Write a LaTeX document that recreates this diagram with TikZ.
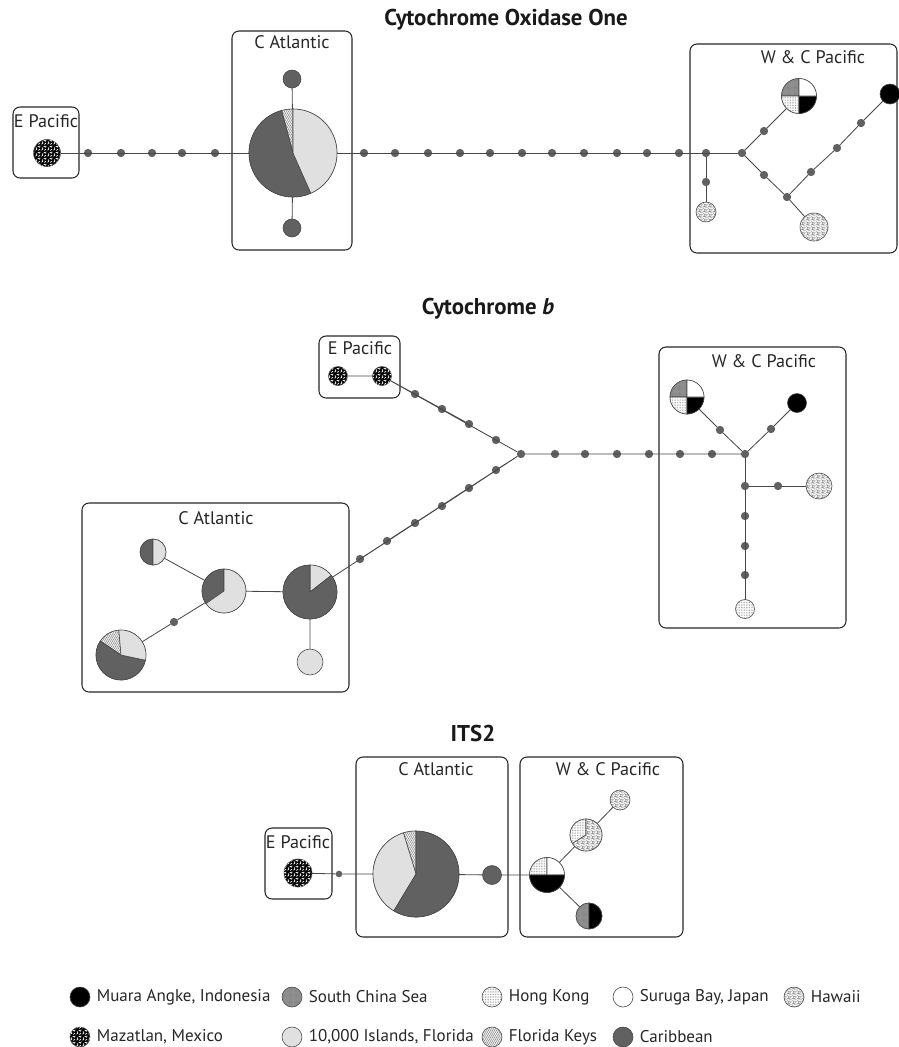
\documentclass[tikz,border=0pt]{standalone}
\usepackage{fontspec}
\setmainfont{PT Sans}
\usepackage{tikz}
\usetikzlibrary{calc,patterns,patterns.meta,positioning}
\definecolor{carib}{gray}{0.38}
\definecolor{isl}{gray}{0.88}
\definecolor{scsgray}{gray}{0.58}
\definecolor{hapline}{gray}{0.28}
% fine textures for the sampling sites
\tikzdeclarepattern{name=hawaiinet, type=uncolored,
	bounding box={(0,0) and (4pt,4pt)}, tile size={(4pt,4pt)},
	code={\draw[line width=.3pt] (0,.8pt) -- (1.2pt,1.6pt) -- (2.4pt,.6pt) -- (4pt,.8pt)
		(1.2pt,1.6pt) -- (1.4pt,3.2pt) -- (2.9pt,2.7pt) -- (2.4pt,.6pt)
		(1.4pt,3.2pt) -- (.2pt,4pt) (2.9pt,2.7pt) -- (4pt,3.3pt);}}
\tikzdeclarepattern{name=blobs, type=uncolored,
	bounding box={(0,0) and (5pt,5pt)}, tile size={(5pt,5pt)},
	code={\draw[line width=.6pt,line cap=round] (.6pt,.8pt) -- (1.6pt,1.8pt) -- (1pt,2.9pt)
		(2.9pt,.6pt) -- (4.2pt,1.4pt) (2.5pt,4pt) -- (3.8pt,3.3pt) -- (4.4pt,4.4pt);}}
\tikzset{
	hap/.style={circle,draw=hapline,line width=.5pt,inner sep=0pt,outer sep=0pt,
		minimum size={2*#1*0.3mm}},
	hapedge/.style={draw=hapline,line width=.5pt,line join=round},
	mut/.style={circle,fill=carib,inner sep=0pt,outer sep=0pt,minimum size=2.5mm},
	link/.style={draw=hapline,line width=.7pt},
	region/.style 2 args={draw=black!85,line width=.9pt,rounded corners=6pt,
		inner sep=0pt,minimum width={#1*0.3mm},minimum height={#2*0.3mm}},
	region name/.style={font=\fontsize{15.5}{18}\selectfont,text=black!85,inner sep=0pt},
	panel title/.style={font=\fontsize{19.5}{21}\selectfont\bfseries,text=black!90,inner sep=0pt},
	keytext/.style={font=\fontsize{14.5}{16}\selectfont,text=black!85,inner sep=0pt,anchor=west},
	% sites
	muara/.style={fill=black},
	scs/.style={fill=scsgray,postaction={pattern={Dots[radius=.25pt,distance=1pt]},pattern color=black!55}},
	hongkong/.style={fill=white,postaction={pattern={Dots[radius=.3pt,distance=1.4pt]},pattern color=black!60}},
	suruga/.style={fill=white},
	hawaii/.style={fill=gray!10,postaction={pattern=hawaiinet,pattern color=black!55}},
	mazatlan/.style={fill=black,postaction={pattern=blobs,pattern color=white}},
	islands/.style={fill=isl},
	keys/.style={fill=isl!50!white,postaction={pattern={Lines[angle=60,distance=1.5pt,line width=.3pt]},pattern color=black!60}},
	carib/.style={fill=carib}
}
\newcommand{\hapslice}[4]{%
	\filldraw[hapedge,#4] let \p1=(#1.center), \p2=(#1.east), \n1={\x2-\x1} in
	(#1.center) -- ++(#2:\n1) arc[start angle=#2,end angle=#3,radius=\n1] -- cycle;}

\begin{document}
\begin{tikzpicture}[x=0.3mm,y=-0.3mm]
	\useasboundingbox (0,0) rectangle (899,1047);

	% ---- Cytochrome Oxidase One
	\node[panel title] (oT) at (506,20) {Cytochrome Oxidase One};
	\node[region={66}{71}] (oEPbox) at (46,142.5) {};
	\node[region={120}{219}] (oCAbox) at (292,140.5) {};
	\node[region={207}{209}] (oWCbox) at (793.5,148.5) {};
	\node[region name] (oEPl) at (46,121) {E Pacific};
	\node[region name] (oCAl) at (292,42) {C Atlantic};
	\node[region name] (oWCl) at (813,57) {W \& C Pacific};

	\node[hap=13.5,mazatlan] (oEP) at (47,153) {};
	\foreach \x [count=\i] in {88,121,152,182,215}
		\node[mut] (oa\i) at (\x,153) {};
	\node[hap=44] (oCA) at (293,153) {};
	\node[hap=9,carib] (oCAt) at (292,79) {};
	\node[hap=9,carib] (oCAb) at (292,228) {};
	\foreach \x [count=\i] in {364,395,428,460,490,522,552,584,617,647,679,706,742}
		\node[mut] (ob\i) at (\x,153) {};
	\node[mut] (oc1) at (706,182) {};
	\node[hap=10,hawaii] (oHW1) at (706,212) {};
	\node[mut] (oc2) at (764,131) {};
	\node[hap=17.5] (oQ) at (799,96) {};
	\node[mut] (oc3) at (764,175) {};
	\node[mut] (oc4) at (787,197) {};
	\node[hap=14,hawaii] (oHW2) at (814,227) {};
	\node[mut] (oc5) at (811,172) {};
	\node[mut] (oc6) at (837,148) {};
	\node[mut] (oc7) at (861,123) {};
	\node[hap=10,muara] (oMA) at (890,94) {};

	\draw[link] (oEP) foreach \i in {1,...,5}{ -- (oa\i)} -- (oCA)
		foreach \i in {1,...,13}{ -- (ob\i)};
	\draw[link] (oCAt) -- (oCA) -- (oCAb);
	\draw[link] (ob12) -- (oc1) -- (oHW1);
	\draw[link] (ob13) -- (oc2) -- (oQ);
	\draw[link] (ob13) -- (oc3) -- (oc4) -- (oHW2);
	\draw[link] (oc4) -- (oc5) -- (oc6) -- (oc7) -- (oMA);

	\hapslice{oCA}{90}{105}{keys}
	\hapslice{oCA}{105}{294}{carib}
	\hapslice{oCA}{-66}{90}{islands}
	\hapslice{oQ}{90}{180}{scs}
	\hapslice{oQ}{180}{270}{hongkong}
	\hapslice{oQ}{270}{360}{muara}
	\hapslice{oQ}{0}{90}{suruga}

	% ---- Cytochrome b
	\node[panel title] (bT) at (488,309) {Cytochrome \textit{b}};
	\node[region={81}{62}] (bEPbox) at (359.5,367) {};
	\node[region={187}{281}] (bWCbox) at (752.5,487.5) {};
	\node[region={267}{189}] (bCAbox) at (215.5,597.5) {};
	\node[region name] (bEPl) at (360,348) {E Pacific};
	\node[region name] (bWCl) at (764,361) {W \& C Pacific};
	\node[region name] (bCAl) at (216,518) {C Atlantic};

	\node[hap=9.5,mazatlan] (bEP1) at (338,376) {};
	\node[hap=9.5,mazatlan] (bEP2) at (382,376) {};
	\foreach \x/\y [count=\i] in {415/394,442/409,469/424,496/440}
		\node[mut] (bu\i) at (\x,\y) {};
	\node[mut] (bJ) at (521,454) {};
	\foreach \x/\y [count=\i] in {496/470,469/488,442/506,415/523,387/541,360/559}
		\node[mut] (bl\i) at (\x,\y) {};
	\foreach \x [count=\i] in {555,585,617,649,680,712}
		\node[mut] (bh\i) at (\x,454) {};
	\node[mut] (bK) at (745,454) {};
	\node[mut] (bq) at (720,430) {};
	\node[hap=17] (bQ) at (687,397) {};
	\node[mut] (bm) at (771,429) {};
	\node[hap=9.5,muara] (bMA) at (797,403) {};
	\node[mut] (bL) at (745,486) {};
	\node[mut] (bw) at (778,486) {};
	\node[hap=13,hawaii] (bHW) at (819,486) {};
	\foreach \y [count=\i] in {516,546,575}
		\node[mut] (bv\i) at (745,\y) {};
	\node[hap=9.5,hongkong] (bHK) at (745,609) {};

	\node[hap=13] (bA) at (153,552) {};
	\node[hap=22] (bB) at (224,591) {};
	\node[hap=25] (bC) at (121,655) {};
	\node[hap=27] (bD) at (310,592) {};
	\node[hap=13,islands] (bE) at (310,662) {};
	\node[mut] (bc) at (174,622) {};

	\draw[link] (bEP1) -- (bEP2) foreach \i in {1,...,4}{ -- (bu\i)} -- (bJ)
		foreach \i in {1,...,6}{ -- (bh\i)} -- (bK);
	\draw[link] (bJ) foreach \i in {1,...,6}{ -- (bl\i)} -- (bD);
	\draw[link] (bK) -- (bq) -- (bQ);
	\draw[link] (bK) -- (bm) -- (bMA);
	\draw[link] (bK) -- (bL) foreach \i in {1,...,3}{ -- (bv\i)} -- (bHK);
	\draw[link] (bL) -- (bw) -- (bHW);
	\draw[link] (bA) -- (bB) -- (bD) -- (bE);
	\draw[link] (bC) -- (bc) -- (bB);

	\hapslice{bQ}{90}{180}{scs}
	\hapslice{bQ}{180}{270}{hongkong}
	\hapslice{bQ}{270}{360}{muara}
	\hapslice{bQ}{0}{90}{suruga}
	\hapslice{bA}{90}{270}{carib}
	\hapslice{bA}{-90}{90}{islands}
	\hapslice{bB}{90}{215}{carib}
	\hapslice{bB}{215}{450}{islands}
	\hapslice{bC}{95}{146}{keys}
	\hapslice{bC}{146}{348}{carib}
	\hapslice{bC}{-12}{95}{islands}
	\hapslice{bD}{38}{90}{islands}
	\hapslice{bD}{90}{398}{carib}

	% ---- ITS2
	\node[panel title] (tT) at (473,733) {ITS2};
	\node[region={67}{71}] (tEPbox) at (298.5,863.5) {};
	\node[region={152}{180}] (tCAbox) at (432,847) {};
	\node[region={163}{180}] (tWCbox) at (601.5,847) {};
	\node[region name] (tEPl) at (298,842) {E Pacific};
	\node[region name] (tCAl) at (436,769) {C Atlantic};
	\node[region name] (tWCl) at (608,769) {W \& C Pacific};

	\node[hap=14,mazatlan] (tEP) at (298,873) {};
	\node[mut,minimum size=2mm] (tm) at (339,874) {};
	\node[hap=43] (tCA) at (416,874) {};
	\node[hap=9.5,carib] (tCb) at (492,875) {};
	\node[hap=17.5] (tP) at (547,875) {};
	\node[hap=16] (tU) at (586,835) {};
	\node[hap=10,hawaii] (tHW) at (620,800) {};
	\node[hap=13] (tL) at (589,916) {};

	\draw[link] (tEP) -- (tm) -- (tCA) -- (tCb) -- (tP) -- (tU) -- (tHW);
	\draw[link] (tP) -- (tL);

	\hapslice{tCA}{90}{107}{keys}
	\hapslice{tCA}{107}{239}{islands}
	\hapslice{tCA}{239}{450}{carib}
	\hapslice{tP}{90}{180}{hongkong}
	\hapslice{tP}{0}{90}{suruga}
	\hapslice{tP}{180}{360}{muara}
	\hapslice{tU}{90}{212}{hongkong}
	\hapslice{tU}{212}{450}{hawaii}
	\hapslice{tL}{90}{270}{scs}
	\hapslice{tL}{-90}{90}{muara}

	% ---- key
	\node[hap=10,muara] (kMA) at (80,997) {};
	\node[keytext,right=2mm of kMA] (kMAt) {Muara Angke, Indonesia};
	\node[hap=10,scs] (kSC) at (292,997) {};
	\node[keytext,right=2mm of kSC] (kSCt) {South China Sea};
	\node[hap=10,hongkong] (kHK) at (492,997) {};
	\node[keytext,right=2mm of kHK] (kHKt) {Hong Kong};
	\node[hap=10,suruga] (kSB) at (623,997) {};
	\node[keytext,right=2mm of kSB] (kSBt) {Suruga Bay, Japan};
	\node[hap=10,hawaii] (kHW) at (794,997) {};
	\node[keytext,right=2mm of kHW] (kHWt) {Hawaii};
	\node[hap=10,mazatlan] (kMZ) at (80,1037) {};
	\node[keytext,right=2mm of kMZ] (kMZt) {Mazatlan, Mexico};
	\node[hap=10,islands] (kTI) at (292,1037) {};
	\node[keytext,right=2mm of kTI] (kTIt) {10,000 Islands, Florida};
	\node[hap=10,keys] (kFK) at (492,1037) {};
	\node[keytext,right=2mm of kFK] (kFKt) {Florida Keys};
	\node[hap=10,carib] (kCB) at (623,1037) {};
	\node[keytext,right=2mm of kCB] (kCBt) {Caribbean};
\end{tikzpicture}
\end{document}
